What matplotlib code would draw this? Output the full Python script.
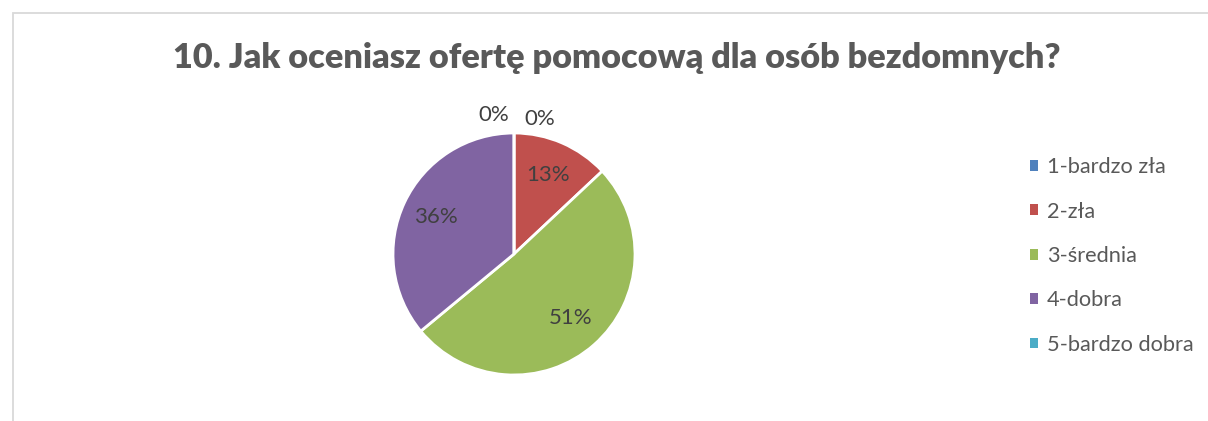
import matplotlib.pyplot as plt
from matplotlib.patches import Patch, Rectangle
import numpy as np

plt.rcParams['font.family'] = ['Lato', 'DejaVu Sans']

title = "10. Jak oceniasz ofertę pomocową dla osób bezdomnych?"
categories = ["1-bardzo zła", "2-zła", "3-średnia", "4-dobra", "5-bardzo dobra"]
shares = [0, 13, 51, 36, 0]
colors = ["#4F81BD", "#C0504D", "#9BBB59", "#8064A2", "#4BACC6"]

W, H = 1208, 421
fig = plt.figure(figsize=(W / 100, H / 100), dpi=100)

# chart frame (top and left edges visible)
fig.add_artist(Rectangle((13 / W, -1), 2, 1 + (H - 13) / H, transform=fig.transFigure,
                         fill=False, edgecolor="#D9D9D9", linewidth=1.3))

fig.text(617 / W, 1 - 58 / H, title, ha="center", va="center",
         fontsize=24.7, fontweight="heavy", color="#595959")

cx, cy, r = 514, H - 254, 121
ax = fig.add_axes([(cx - r) / W, (cy - r) / H, 2 * r / W, 2 * r / H])
wedges, _ = ax.pie(shares, colors=colors, startangle=90, counterclock=False,
                   radius=1, wedgeprops=dict(edgecolor="white", linewidth=2))
ax.set_xlim(-1, 1)
ax.set_ylim(-1, 1)
ax.set_aspect("equal")
ax.axis("off")

# percentage labels: inside for real slices, above the pie for empty ones
total = sum(shares)
zero_offsets = {0: (0.21, 1.115), 4: (-0.17, 1.145)}
for i, (w, v) in enumerate(zip(wedges, shares)):
    pct = f"{round(100 * v / total)}%"
    if v > 0:
        ang = np.deg2rad((w.theta1 + w.theta2) / 2)
        x, y = 0.71 * np.cos(ang), 0.71 * np.sin(ang)
    else:
        x, y = zero_offsets[i]
    ax.text(x, y, pct, ha="center", va="center", fontsize=16, color="#404040")

handles = [Patch(facecolor=c, edgecolor="none") for c in colors]
fig.legend(handles, categories, loc="center left",
           bbox_to_anchor=(1030 / W, 1 - 256 / H), frameon=False,
           fontsize=15.7, labelcolor="#595959", handlelength=0.38, handleheight=0.38,
           handletextpad=0.4, labelspacing=1.12, borderaxespad=0, borderpad=0)

fig.savefig("out.png", dpi=100, facecolor="white")
